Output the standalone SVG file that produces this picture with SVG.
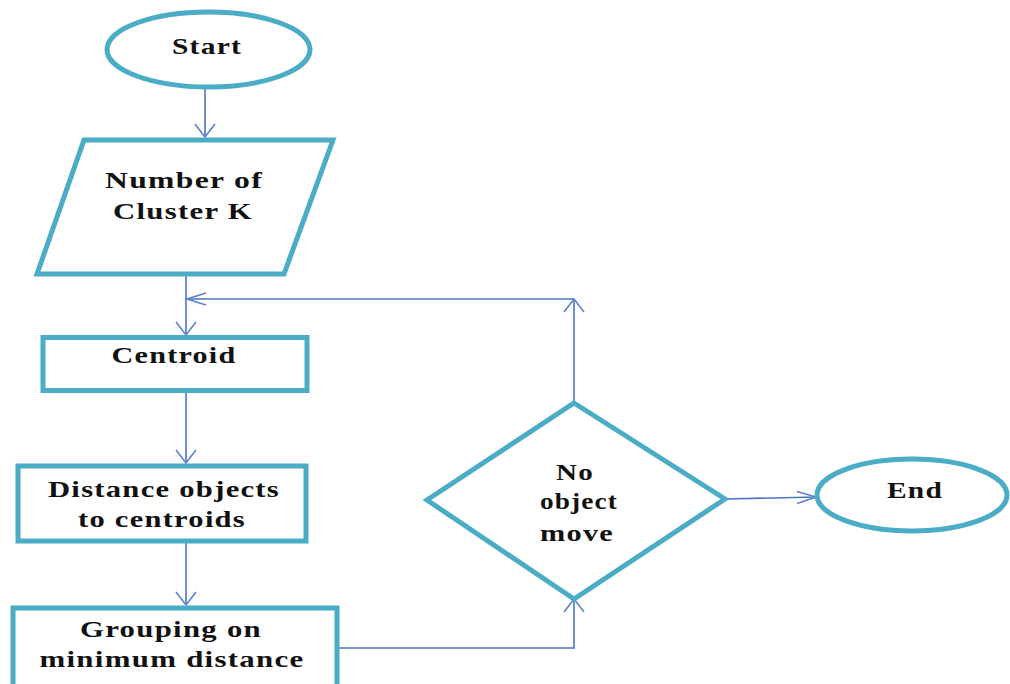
<svg xmlns="http://www.w3.org/2000/svg" width="1010" height="684" viewBox="0 0 1010 684">
  <style>
    .node { fill: #ffffff; stroke: #4bacc6; stroke-width: 5; stroke-linejoin: miter; }
    .label { font-family: "Liberation Serif", "Times New Roman", serif; font-weight: bold; font-size: 24px; letter-spacing: 1px; fill: #111111; text-anchor: middle; }
    .conn { fill: none; stroke: #4a76c4; stroke-width: 1.6; }
    .head { fill: none; stroke: #5b82cc; stroke-width: 1.6; }
  </style>
  <defs>
    <!-- open chevron heads: vertical runs look taller, horizontal runs look longer -->
    <marker id="arrow-v" markerUnits="userSpaceOnUse" markerWidth="16" markerHeight="26" refX="14" refY="12" orient="auto" viewBox="0 0 16 24">
      <path class="head" d="M1,2 L14,12 L1,22"/>
    </marker>
    <marker id="arrow-h" markerUnits="userSpaceOnUse" markerWidth="22" markerHeight="16" refX="20" refY="8" orient="auto" viewBox="0 0 22 16">
      <path class="head" d="M1,2 L20,8 L1,14"/>
    </marker>
  </defs>
  <rect width="1010" height="684" fill="#ffffff"/>

  <g id="connectors">
    <path class="conn" d="M205,88 L205,137" marker-end="url(#arrow-v)"/>
    <path class="conn" d="M186,276 L186,335" marker-end="url(#arrow-v)"/>
    <path class="conn" d="M574,403 L574,299" marker-end="url(#arrow-v)"/>
    <path class="conn" d="M574,299 L187,299" marker-end="url(#arrow-h)"/>
    <path class="conn" d="M186,392 L186,463" marker-end="url(#arrow-v)"/>
    <path class="conn" d="M186,543 L186,605" marker-end="url(#arrow-v)"/>
    <path class="conn" d="M339,648 L574,648 L574,599" marker-end="url(#arrow-v)"/>
    <path class="conn" d="M725,499 L816,497" marker-end="url(#arrow-h)"/>
  </g>

  <g id="start">
    <ellipse class="node" cx="208.5" cy="49.5" rx="101.5" ry="37.5"/>
    <text class="label" x="207" y="54" textLength="70" lengthAdjust="spacingAndGlyphs">Start</text>
  </g>

  <g id="input-k">
    <polygon class="node" points="84,140 333,140 284,274 37,274"/>
    <text class="label" x="184" y="188" textLength="158" lengthAdjust="spacingAndGlyphs">Number of</text>
    <text class="label" x="183" y="219" textLength="140" lengthAdjust="spacingAndGlyphs">Cluster K</text>
  </g>

  <g id="centroid">
    <rect class="node" x="43" y="337.5" width="264" height="53"/>
    <text class="label" x="174" y="363" textLength="125" lengthAdjust="spacingAndGlyphs">Centroid</text>
  </g>

  <g id="distance">
    <rect class="node" x="18" y="466" width="288" height="75"/>
    <text class="label" x="164" y="497" textLength="232" lengthAdjust="spacingAndGlyphs">Distance objects</text>
    <text class="label" x="162" y="527" textLength="168" lengthAdjust="spacingAndGlyphs">to centroids</text>
  </g>

  <g id="grouping">
    <rect class="node" x="13" y="608" width="324" height="90"/>
    <text class="label" x="171" y="637" textLength="182" lengthAdjust="spacingAndGlyphs">Grouping on</text>
    <text class="label" x="172" y="667" textLength="265" lengthAdjust="spacingAndGlyphs">minimum distance</text>
  </g>

  <g id="decision">
    <polygon class="node" points="574,403 725,499 574,599 427,500"/>
    <text class="label" x="575" y="480" textLength="38" lengthAdjust="spacingAndGlyphs">No</text>
    <text class="label" x="579" y="509" textLength="78" lengthAdjust="spacingAndGlyphs">object</text>
    <text class="label" x="577" y="541" textLength="74" lengthAdjust="spacingAndGlyphs">move</text>
  </g>

  <g id="end">
    <ellipse class="node" cx="912" cy="495" rx="95" ry="36"/>
    <text class="label" x="915" y="498" textLength="56" lengthAdjust="spacingAndGlyphs">End</text>
  </g>
</svg>
